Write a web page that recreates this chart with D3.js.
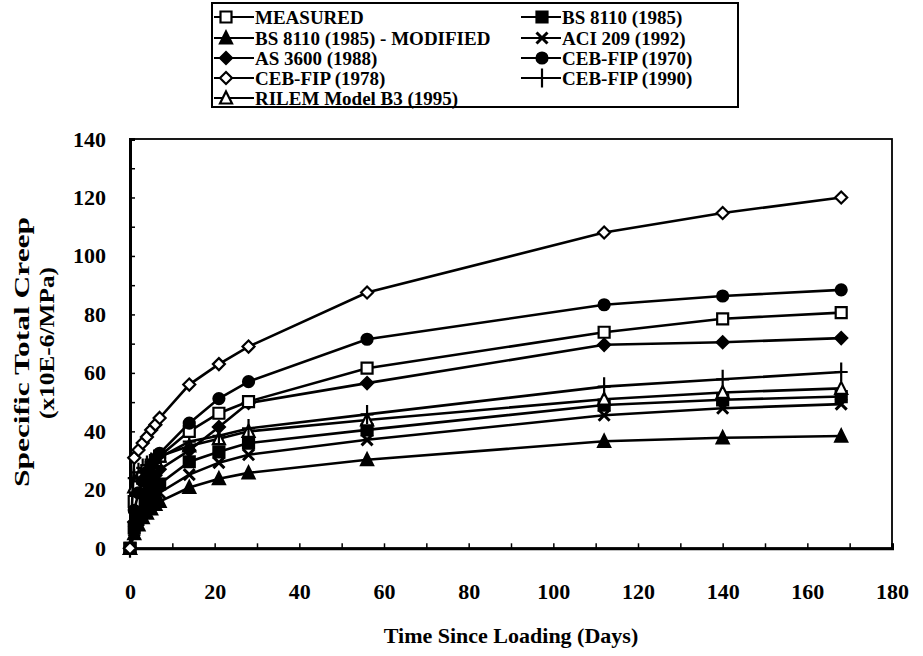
<!DOCTYPE html>
<html>
<head>
<meta charset="utf-8">
<script src="https://cdn.jsdelivr.net/npm/d3@7"></script>
<style>
  html, body { margin: 0; padding: 0; background: #fff; }
  svg { display: block; }
  text { font-family: "Liberation Serif", "Times New Roman", serif; fill: #000; }
</style>
</head>
<body>
<svg id="chart" width="923" height="656"></svg>
<script>
// Sampling days (time since loading)
const days = [0, 1, 2, 3, 4, 5, 6, 7, 14, 21, 28, 56, 112, 140, 168];

// Specific total creep (x10E-6/MPa) for each series
const measured   = [0, 16, 21, 24, 26.5, 28.5, 30, 31.5, 40, 46.2, 50.2, 61.6, 73.9, 78.5, 80.6];
const bs8110     = [0, 7, 11, 14, 16.5, 18.5, 20.5, 22, 29.6, 33, 36, 40.5, 49, 50.8, 51.9];
const bs8110Mod  = [0, 5, 8, 10.5, 12, 13.5, 15, 16, 20.8, 23.8, 25.8, 30.3, 36.6, 37.8, 38.4];
const aci209     = [0, 6, 9.5, 12, 14, 16, 17.5, 19, 25.2, 29.3, 32, 37.1, 45.5, 47.9, 49.3];
const as3600     = [0, 9, 14, 17.5, 20.5, 23, 25, 27, 33.5, 41.5, 49.7, 56.5, 69.6, 70.5, 71.9];
const cebfip1970 = [0, 13, 19, 23, 26, 28.5, 30.5, 32.5, 42.8, 51.2, 57, 71.5, 83.3, 86.3, 88.4];
const cebfip1978 = [0, 31, 33.6, 36, 38.1, 40.5, 42.3, 44.6, 56, 63, 69, 87.5, 108, 114.7, 120];
const cebfip1990 = [0, 24, 26, 27.5, 28.5, 29.5, 30.5, 31, 36.5, 38.5, 41, 45.8, 55.3, 57.8, 60.3];
const rilemB3    = [0, 21, 24, 26, 27.5, 29, 30, 31.5, 35, 37.5, 40, 43.9, 51, 53.3, 54.7];

// Axis ticks
const xTickLabels = [0, 20, 40, 60, 80, 100, 120, 140, 160, 180];
const yTickLabels = [0, 20, 40, 60, 80, 100, 120, 140];

// Series names and marker kinds, in legend order (left column, then right column)
const seriesNames = ["MEASURED", "BS 8110 (1985) - MODIFIED", "AS 3600 (1988)", "CEB-FIP (1978)",
  "RILEM Model B3 (1995)", "BS 8110 (1985)", "ACI 209 (1992)", "CEB-FIP (1970)", "CEB-FIP (1990)"];
const seriesValues = [measured, bs8110Mod, as3600, cebfip1978, rilemB3, bs8110, aci209, cebfip1970, cebfip1990];
const seriesMarkers = ["squareOpen", "triangleFilled", "diamondFilled", "diamondOpen",
  "triangleOpen", "squareFilled", "x", "circleFilled", "plus"];

// Draw order: put the upper curves last so their markers stay on top
const drawOrder = [1, 6, 5, 4, 8, 2, 0, 7, 3];

const svg = d3.select("#chart");
const x = d3.scaleLinear().domain([0, 180]).range([130, 892]);
const y = d3.scaleLinear().domain([0, 140]).range([548.3, 139]);

// Plot frame
svg.append("rect")
  .attr("x", x(0)).attr("y", y(140))
  .attr("width", x(180) - x(0)).attr("height", y(0) - y(140))
  .attr("fill", "none").attr("stroke", "#000").attr("stroke-width", 1.8);

// Minor (inside) ticks every 10 units
const xMinor = svg.append("g").attr("transform", `translate(0,${y(0)})`)
  .call(d3.axisBottom(x).tickValues(d3.range(0, 181, 10)).tickSize(-5).tickFormat(""));
const yMinor = svg.append("g").attr("transform", `translate(${x(0)},0)`)
  .call(d3.axisLeft(y).tickValues(d3.range(0, 141, 10)).tickSize(-5).tickFormat(""));
[xMinor, yMinor].forEach(g => {
  g.select(".domain").attr("stroke-width", 3);
  g.selectAll(".tick line").attr("stroke-width", 1.5);
});

// Tick labels
const xLab = svg.append("g").attr("transform", `translate(0,${y(0)})`)
  .call(d3.axisBottom(x).tickValues(xTickLabels).tickSize(0).tickPadding(35));
const yLab = svg.append("g").attr("transform", `translate(${x(0)},0)`)
  .call(d3.axisLeft(y).tickValues(yTickLabels).tickSize(0).tickPadding(24));
[xLab, yLab].forEach(g => {
  g.select(".domain").remove();
  g.selectAll("text")
    .style("font-family", '"Liberation Serif", "Times New Roman", serif')
    .style("font-size", "22px").style("font-weight", "bold").attr("fill", "#000");
});

// Axis titles
svg.append("text")
  .attr("x", 511).attr("y", 643).attr("text-anchor", "middle")
  .style("font-size", "22px").style("font-weight", "bold")
  .text("Time Since Loading (Days)");
svg.append("text")
  .attr("transform", "translate(29,352) rotate(-90)").attr("text-anchor", "middle")
  .attr("textLength", 270).attr("lengthAdjust", "spacingAndGlyphs")
  .style("font-size", "22px").style("font-weight", "bold")
  .text("Specific Total Creep");
svg.append("text")
  .attr("transform", "translate(54,343) rotate(-90)").attr("text-anchor", "middle")
  .attr("textLength", 152).attr("lengthAdjust", "spacingAndGlyphs")
  .style("font-size", "22px").style("font-weight", "bold")
  .text("(x10E-6/MPa)");

// Marker shapes
function markerPath(kind) {
  const s = 5.5;
  switch (kind) {
    case "squareOpen":
    case "squareFilled":
      return `M${-s},${-s}H${s}V${s}H${-s}Z`;
    case "triangleOpen":
    case "triangleFilled":
      return `M0,${-s - 1}L${s + 0.5},${s}L${-s - 0.5},${s}Z`;
    case "diamondOpen":
    case "diamondFilled":
      return `M0,${-s - 0.5}L${s + 0.5},0L0,${s + 0.5}L${-s - 0.5},0Z`;
    case "circleFilled":
      return d3.arc()({innerRadius: 0, outerRadius: s, startAngle: 0, endAngle: 2 * Math.PI});
    case "x":
      return `M${-s},${-s}L${s},${s}M${s},${-s}L${-s},${s}`;
    case "plus":
      return `M0,${-s - 4}V${s + 4}M${-s - 1},0H${s + 1}`;
  }
}
function styleMarker(sel, kind) {
  const filled = /Filled/.test(kind);
  const stroked = kind === "x" || kind === "plus";
  sel.attr("d", markerPath(kind))
    .attr("fill", stroked ? "none" : (filled ? "#000" : "#fff"))
    .attr("stroke", "#000")
    .attr("stroke-width", kind === "x" ? 3 : 2.2);
}

const line = d3.line().x(d => x(d[0])).y(d => y(d[1]));

drawOrder.forEach(i => {
  const pts = days.map((d, j) => [d, seriesValues[i][j]]);
  const g = svg.append("g").attr("class", "series");
  g.append("path").datum(pts).attr("d", line)
    .attr("fill", "none").attr("stroke", "#000").attr("stroke-width", 2.6);
  g.selectAll("path.mk").data(pts).join("path").attr("class", "mk")
    .attr("transform", d => `translate(${x(d[0])},${y(d[1])})`)
    .call(sel => styleMarker(sel, seriesMarkers[i]));
});

// Legend
const legend = svg.append("g");
legend.append("rect")
  .attr("x", 212).attr("y", 3).attr("width", 526).attr("height", 104)
  .attr("fill", "#fff").attr("stroke", "#000").attr("stroke-width", 2);
const rowY = [17, 38, 58, 78, 98];
seriesNames.forEach((name, i) => {
  const col = i < 5 ? 0 : 1;
  const row = col === 0 ? i : i - 5;
  const x0 = col === 0 ? 214 : 521;
  const mx = col === 0 ? 226 : 542;
  const yy = rowY[row];
  const g = legend.append("g");
  g.append("line").attr("x1", x0).attr("x2", x0 + 40).attr("y1", yy).attr("y2", yy)
    .attr("stroke", "#000").attr("stroke-width", 2);
  g.append("path").attr("transform", `translate(${mx},${yy})`)
    .call(sel => styleMarker(sel, seriesMarkers[i]));
  g.append("text").attr("x", x0 + 41).attr("y", yy).attr("dy", "0.35em")
    .style("font-size", "19px").style("font-weight", "bold").text(name);
});
</script>
</body>
</html>
